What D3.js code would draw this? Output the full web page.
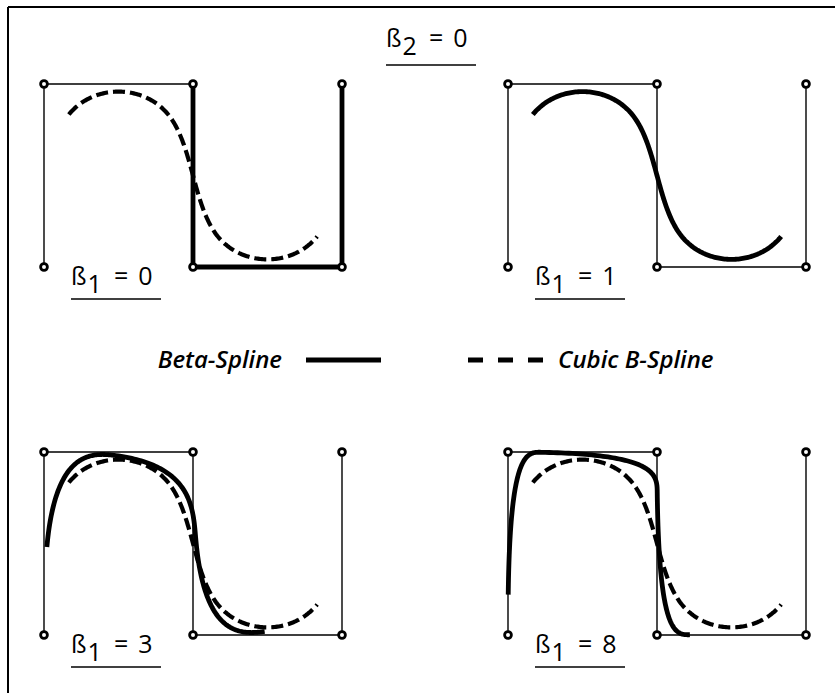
<!DOCTYPE html>
<html><head><meta charset="utf-8">
<script src="https://cdn.jsdelivr.net/npm/d3@7"></script>
<style>body{margin:0;background:#fff}</style>
</head><body>
<script>
// Control polygon (unit coordinates) shared by all four panels
const controlX = [0, 0, 1, 1, 2, 2];
const controlY = [0, 1, 1, 0, 0, 1];
// Shape parameters per panel
const beta1Values = [0, 1, 3, 8];
const beta2Value = 0;
const panelCol = [0, 1, 0, 1];
const panelRow = [0, 0, 1, 1];
const showCubic = [true, false, true, true];
const legendLabels = ["Beta-Spline", "Cubic B-Spline"];

const W = 835, H = 693;
const svg = d3.select("body").append("svg").attr("width", W).attr("height", H);

// frame (top and left edges visible)
svg.append("line").attr("x1", 8).attr("y1", 7).attr("x2", W).attr("y2", 7).attr("stroke", "#000").attr("stroke-width", 2);
svg.append("line").attr("x1", 8).attr("y1", 7).attr("x2", 8).attr("y2", H).attr("stroke", "#000").attr("stroke-width", 2);

const colX = [44, 508], rowY = [84, 452];
const panelW = 298, panelH = 183;

function betaBasis(u, b1, b2) {
  const d = 2*b1**3 + 4*b1**2 + 4*b1 + b2 + 2;
  return [
    2*b1**3*(1-u)**3 / d,
    (2*b1**3*u*(u*u-3*u+3) + 2*b1*b1*(u**3-3*u*u+2) + 2*b1*(u**3-3*u+2) + b2*(2*u**3-3*u*u+1)) / d,
    (2*b1*b1*u*u*(3-u) + 2*b1*u*(3-u*u) + b2*u*u*(3-2*u) + 2*(1-u**3)) / d,
    2*u**3 / d
  ];
}
function splinePoints(b1, b2) {
  const pts = [];
  const n = controlX.length;
  for (let i = 2; i <= n - 2; i++) {
    const steps = 80;
    for (let s = (i === 2 ? 0 : 1); s <= steps; s++) {
      const u = s / steps;
      const b = betaBasis(u, b1, b2);
      let px = 0, py = 0;
      for (let r = 0; r < 4; r++) { px += b[r]*controlX[i-2+r]; py += b[r]*controlY[i-2+r]; }
      pts.push([px, py]);
    }
  }
  return pts;
}

const fontFam = "'Open Sans', 'DejaVu Sans', sans-serif";

function betaLabel(g, x, y, sub, val, ulY) {
  const t = g.append("text").attr("x", x).attr("y", y)
    .attr("font-family", fontFam).attr("font-size", 25).attr("font-weight", 500).attr("fill", "#000");
  t.append("tspan").text("ß");
  t.append("tspan").attr("dy", 8).attr("dx", 1).text(sub);
  t.append("tspan").attr("dy", -8).attr("dx", 12).text("=");
  t.append("tspan").attr("dx", 10).text(val);
  g.append("line").attr("x1", x).attr("x2", x + 90).attr("y1", ulY).attr("y2", ulY)
    .attr("stroke", "#000").attr("stroke-width", 1.6);
}

beta1Values.forEach((b1, k) => {
  const x0 = colX[panelCol[k]], y0 = rowY[panelRow[k]];
  const xs = d3.scaleLinear().domain([0, 2]).range([x0, x0 + panelW]);
  const ys = d3.scaleLinear().domain([0, 1]).range([y0 + panelH, y0]);
  const line = d3.line().x(d => xs(d[0])).y(d => ys(d[1]));
  const g = svg.append("g");
  const poly = controlX.map((cx, i) => [cx, controlY[i]]);
  g.append("path").attr("d", line(poly)).attr("fill", "none").attr("stroke", "#000").attr("stroke-width", 1.4);
  if (showCubic[k]) {
    g.append("path").attr("d", line(splinePoints(1, 0))).attr("fill", "none")
      .attr("stroke", "#000").attr("stroke-width", 4.2).attr("stroke-dasharray", "12,5");
  }
  g.append("path").attr("d", line(splinePoints(b1, beta2Value))).attr("fill", "none")
    .attr("stroke", "#000").attr("stroke-width", 4.8).attr("stroke-linejoin", "miter");
  g.selectAll("circle").data(poly).join("circle")
    .attr("cx", d => xs(d[0])).attr("cy", d => ys(d[1])).attr("r", 3.4)
    .attr("fill", "#fff").attr("stroke", "#000").attr("stroke-width", 2.8);
  betaLabel(g, x0 + 27, y0 + 201, "1", String(b1), y0 + 215);
});

// top label
betaLabel(svg.append("g"), 386, 47, "2", String(beta2Value), 65);

// legend
const lg = svg.append("g").attr("font-family", fontFam).attr("font-style", "italic")
  .attr("font-weight", 600).attr("font-size", 24);
lg.append("text").attr("x", 282).attr("y", 368).attr("text-anchor", "end").text(legendLabels[0]);
lg.append("line").attr("x1", 306).attr("x2", 381).attr("y1", 360).attr("y2", 360).attr("stroke", "#000").attr("stroke-width", 5);
lg.append("line").attr("x1", 468).attr("x2", 544).attr("y1", 360).attr("y2", 360).attr("stroke", "#000").attr("stroke-width", 5).attr("stroke-dasharray", "15,15");
lg.append("text").attr("x", 558).attr("y", 368).text(legendLabels[1]);
</script>
</body></html>
